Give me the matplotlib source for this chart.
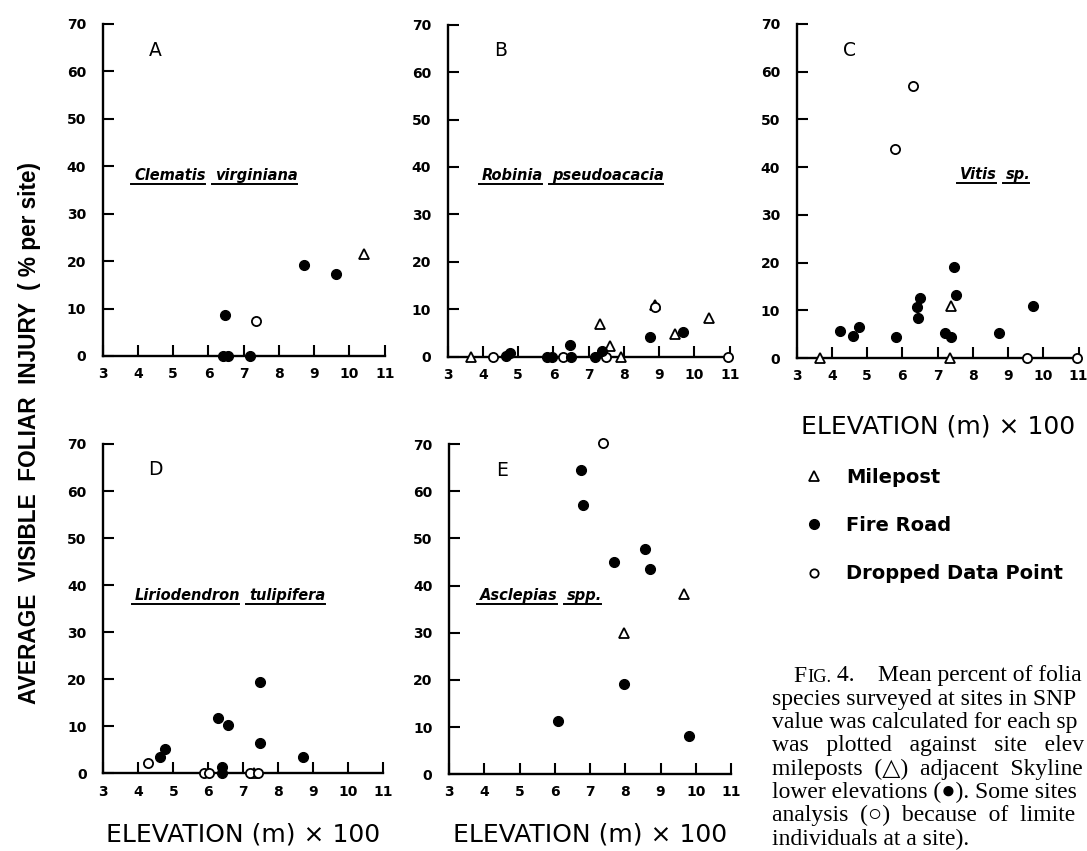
import matplotlib
matplotlib.use("Agg")
import matplotlib.pyplot as plt
from matplotlib.lines import Line2D

# ---------------- data ----------------
panel_letters = ["A", "B", "C", "D", "E"]
genus = ["Clematis", "Robinia", "Vitis", "Liriodendron", "Asclepias"]
epithet = ["virginiana", "pseudoacacia", "sp.", "tulipifera", "spp."]
species_x = [3.9, 3.96, 7.63, 3.9, 3.88]      # where the species name starts
species_y = [37.2, 37.2, 37.6, 36.9, 36.9]   # baseline of the species name

x_ticks = [3, 4, 5, 6, 7, 8, 9, 10, 11]
y_ticks = [0, 10, 20, 30, 40, 50, 60, 70]

# Panel A  (Clematis virginiana)
a_mile_x = [10.42]
a_mile_y = [21.5]
a_fire_x = [6.46, 6.40, 6.55, 7.18, 8.71, 9.62]
a_fire_y = [8.7, 0.0, 0.0, 0.0, 19.2, 17.3]
a_drop_x = [7.35]
a_drop_y = [7.4]

# Panel B  (Robinia pseudoacacia)
b_mile_x = [3.66, 7.31, 7.60, 7.92, 8.89, 9.44, 10.41]
b_mile_y = [0.0, 6.9, 2.3, 0.0, 10.8, 4.8, 8.1]
b_fire_x = [4.65, 4.78, 5.82, 5.97, 6.48, 6.51, 7.17, 7.37, 8.74, 9.68]
b_fire_y = [0.2, 0.7, 0.0, 0.0, 2.4, 0.0, 0.0, 1.1, 4.2, 5.1]
b_drop_x = [4.29, 6.28, 7.50, 8.89, 10.94]
b_drop_y = [0.0, 0.0, 0.0, 10.5, 0.0]

# Panel C  (Vitis sp.)
c_mile_x = [3.66, 7.37, 7.34]
c_mile_y = [0.0, 10.8, 0.0]
c_fire_x = [4.23, 4.60, 4.76, 5.81, 6.42, 6.51, 6.45, 7.20, 7.39, 7.47, 7.51, 8.74, 9.70]
c_fire_y = [5.7, 4.6, 6.4, 4.3, 10.7, 12.6, 8.3, 5.3, 4.5, 19.1, 13.3, 5.2, 10.8]
c_drop_x = [5.80, 6.29, 9.53, 10.96]
c_drop_y = [43.7, 57.1, 0.0, 0.0]

# Panel D  (Liriodendron tulipifera)
d_mile_x = [7.30]
d_mile_y = [0.0]
d_fire_x = [4.62, 4.76, 6.28, 6.55, 6.40, 6.40, 7.48, 7.48, 8.71]
d_fire_y = [3.4, 5.3, 11.8, 10.2, 1.4, 0.0, 19.5, 6.4, 3.4]
d_drop_x = [4.27, 5.88, 6.02, 7.18, 7.42]
d_drop_y = [2.3, 0.0, 0.0, 0.0, 0.0]

# Panel E  (Asclepias spp.)
e_mile_x = [7.97, 9.68]
e_mile_y = [29.9, 38.3]
e_fire_x = [6.74, 6.79, 7.69, 8.57, 8.69, 7.97, 6.10, 9.80]
e_fire_y = [64.6, 57.0, 45.0, 47.8, 43.6, 19.2, 11.4, 8.2]
e_drop_x = [7.36]
e_drop_y = [70.3]

panels = [
    (a_mile_x, a_mile_y, a_fire_x, a_fire_y, a_drop_x, a_drop_y),
    (b_mile_x, b_mile_y, b_fire_x, b_fire_y, b_drop_x, b_drop_y),
    (c_mile_x, c_mile_y, c_fire_x, c_fire_y, c_drop_x, c_drop_y),
    (d_mile_x, d_mile_y, d_fire_x, d_fire_y, d_drop_x, d_drop_y),
    (e_mile_x, e_mile_y, e_fire_x, e_fire_y, e_drop_x, e_drop_y),
]

legend_labels = ["Milepost", "Fire Road", "Dropped Data Point"]
x_label = "ELEVATION (m) \u00d7 100"
y_label = "AVERAGE  VISIBLE  FOLIAR  INJURY  ( % per site)"
caption_first = " 4.    Mean percent of foliar"
caption_lines = [
    None,
    "species surveyed at sites in SNP",
    "value was calculated for each spec",
    "was   plotted   against   site   elevati",
    "mileposts  (\u25b3)  adjacent  Skyline  D",
    "lower elevations (\u25cf). Some sites w",
    "analysis  (\u25cb)  because  of  limited",
    "individuals at a site).",
]

# ---------------- layout ----------------
W, H = 1087, 851
fig = plt.figure(figsize=(W / 100, H / 100), dpi=100)
fig.patch.set_facecolor("white")

axes_rects = [
    [0.0945, 0.5817, 0.2594, 0.3901],
    [0.4119, 0.5809, 0.2594, 0.3901],
    [0.7329, 0.5793, 0.2594, 0.3925],
    [0.0950, 0.0911, 0.2576, 0.3872],
    [0.4131, 0.0901, 0.2594, 0.3881],
]
xlabel_offsets = {2: -0.205, 3: -0.186, 4: -0.181}

tick_font = dict(family="DejaVu Sans", weight="bold", size=10)
ms_circle = 7.2
ms_tri = 7.4

axes = []
for i, rect in enumerate(axes_rects):
    ax = fig.add_axes(rect)
    axes.append(ax)
    ax.set_xlim(3, 11)
    ax.set_ylim(0, 70)
    for s in ("top", "right"):
        ax.spines[s].set_visible(False)
    for s in ("left", "bottom"):
        ax.spines[s].set_linewidth(1.7)
    ax.set_xticks(x_ticks)
    ax.set_yticks(y_ticks)
    ax.set_xticklabels([str(v) for v in x_ticks], fontdict=tick_font)
    ax.set_yticklabels([str(v) for v in y_ticks], fontdict=tick_font)
    ax.tick_params(axis="both", direction="in", length=8, width=1.5, color="black")
    ax.tick_params(axis="x", pad=8)
    ax.tick_params(axis="y", pad=12)
    ax.patch.set_alpha(0)

    mx, my, fx, fy, dx, dy = panels[i]
    ax.plot(mx, my, linestyle="none", marker="^", markersize=ms_tri,
            markerfacecolor="white", markeredgecolor="black", markeredgewidth=1.3,
            clip_on=False, zorder=4)
    ax.plot(fx, fy, linestyle="none", marker="o", markersize=ms_circle,
            markerfacecolor="black", markeredgecolor="black", markeredgewidth=0.8,
            clip_on=False, zorder=5)
    ax.plot(dx, dy, linestyle="none", marker="o", markersize=ms_circle - 0.6,
            markerfacecolor="white", markeredgecolor="black", markeredgewidth=1.3,
            clip_on=False, zorder=4)

    ax.text(4.5, 64.5, panel_letters[i], ha="center", va="center",
            fontsize=13.5, family="DejaVu Sans")

    if i in xlabel_offsets:
        ax.text(0.5, xlabel_offsets[i], x_label, transform=ax.transAxes,
                ha="center", va="center", fontsize=18, family="DejaVu Sans")

# y label
fig.text(0.027, 0.491, y_label, rotation=90, ha="center", va="center",
         fontsize=16.3, family="Liberation Sans", weight="bold")

# legend
handles = [
    Line2D([], [], linestyle="none", marker="^", markersize=6.5, markerfacecolor="white",
           markeredgecolor="black", markeredgewidth=1.3),
    Line2D([], [], linestyle="none", marker="o", markersize=7, markerfacecolor="black",
           markeredgecolor="black"),
    Line2D([], [], linestyle="none", marker="o", markersize=6, markerfacecolor="white",
           markeredgecolor="black", markeredgewidth=1.3),
]
fig.legend(handles, legend_labels, loc="upper left",
           bbox_to_anchor=(804 / W, 1 - 468 / H), frameon=False,
           prop=dict(family="DejaVu Sans", weight="bold", size=14),
           handlelength=1.0, handletextpad=1.15, labelspacing=1.5,
           borderaxespad=0, borderpad=0)

# caption
cap_size = 17
cap_family = ["Liberation Serif", "DejaVu Sans"]
cap_x0 = 771.7 / W
base0 = 681.5
line_h = 23.3
t_f = fig.text(793 / W, 1 - base0 / H, "F", fontsize=cap_size,
               family=cap_family, va="baseline", ha="left")
t_ig = fig.text(0, 0, "IG.", fontsize=cap_size * 0.78, family=cap_family,
                va="baseline", ha="left")
t_rest = fig.text(0, 0, caption_first, fontsize=cap_size,
                  family=cap_family, va="baseline", ha="left")
cap_texts = [t_rest]
for k, line in enumerate(caption_lines):
    if line is None:
        continue
    cap_texts.append(fig.text(cap_x0, 1 - (base0 + k * line_h) / H, line,
                              fontsize=cap_size, family=cap_family,
                              va="baseline", ha="left"))

fig.canvas.draw()
r = fig.canvas.get_renderer()
to_fig = fig.transFigure.inverted()

fb = t_f.get_window_extent(r)
t_ig.set_position((to_fig.transform((fb.x1 + 1, 0))[0], 1 - base0 / H))
fig.canvas.draw()
ib = t_ig.get_window_extent(r)
t_rest.set_position((to_fig.transform((ib.x1, 0))[0], 1 - base0 / H))
fig.canvas.draw()
# the caption column runs off the right edge of the page: keep what fits
for t in cap_texts:
    s = t.get_text()
    while len(s) > 1 and t.get_window_extent(r).x1 > W - 1:
        s = s[:-1]
        t.set_text(s)

# species names (two words, each underlined)
word_gap_px = 9
sp_font = dict(fontsize=10.5, family="DejaVu Sans", weight="bold", style="italic")
word_texts = []
for i, ax in enumerate(axes):
    t1 = ax.text(species_x[i], species_y[i], genus[i], ha="left", va="baseline", **sp_font)
    word_texts.append((ax, t1))
fig.canvas.draw()
for i, ax in enumerate(axes):
    t1 = word_texts[i][1]
    bb = t1.get_window_extent(r)
    xd = ax.transData.inverted().transform((bb.x1 + word_gap_px, 0))[0]
    t2 = ax.text(xd, species_y[i], epithet[i], ha="left", va="baseline", **sp_font)
    word_texts.append((ax, t2))
fig.canvas.draw()
for ax, t in word_texts:
    bb = t.get_window_extent(r)
    yb = ax.transData.transform(t.get_position())[1] - 4
    p0 = to_fig.transform((bb.x0 - 3, yb))
    p1 = to_fig.transform((bb.x1 - 1, yb))
    fig.add_artist(Line2D([p0[0], p1[0]], [p0[1], p1[1]], transform=fig.transFigure,
                          color="black", linewidth=1.4))

fig.savefig("out.png", dpi=100, facecolor="white")
